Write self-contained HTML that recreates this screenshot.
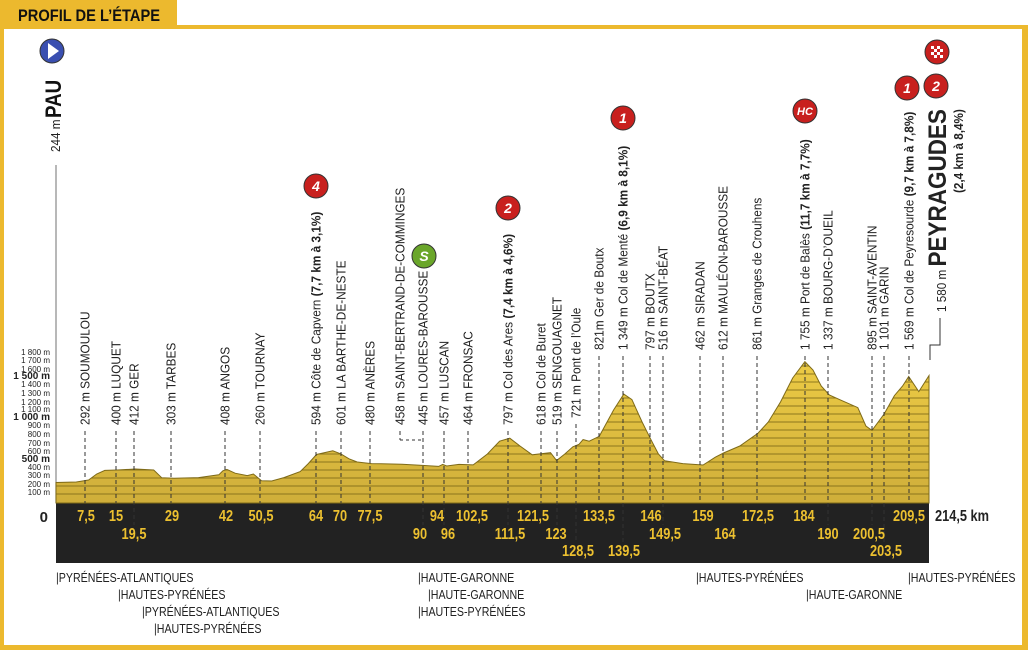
<!DOCTYPE html>
<html><head><meta charset="utf-8"><style>
html,body{margin:0;padding:0;background:#fff;}
svg{display:block;font-family:"Liberation Sans",sans-serif;}
</style></head><body>
<svg id="s" width="1028" height="650" viewBox="0 0 1028 650" xmlns="http://www.w3.org/2000/svg">
<defs>
<linearGradient id="g" x1="0" y1="0" x2="0" y2="1"><stop offset="0" stop-color="#eccb45"/><stop offset="1" stop-color="#cfae3a"/></linearGradient>
<clipPath id="tc"><path id="tcp"/></clipPath>
</defs>
<rect x="0" y="0" width="177" height="27" fill="#ecb92e"/>
<rect x="0" y="25" width="1028" height="4" fill="#ecb92e"/>
<rect x="0" y="0" width="4" height="650" fill="#ecb92e"/>
<rect x="1022" y="25" width="6" height="625" fill="#ecb92e"/>
<rect x="0" y="645" width="1028" height="5" fill="#ecb92e"/>
<text x="18" y="21" font-size="17" font-weight="bold" fill="#111" textLength="142" lengthAdjust="spacingAndGlyphs">PROFIL DE L’ÉTAPE</text>
<line x1="56" y1="165" x2="56" y2="503" stroke="#888" stroke-width="1.2"/>
<rect x="56" y="503" width="873" height="60" fill="#222"/>
<g id="terr"></g>
<g id="lab"></g>
</svg>
<script>
var NS="http://www.w3.org/2000/svg",s=document.getElementById('s');
function X(k){return 56+k*4.07}function Y(m){return 502-m*0.08}
function el(t,a,p,txt){var e=document.createElementNS(NS,t);for(var k in a)e.setAttribute(k,a[k]);if(txt!=null)e.textContent=txt;(p||s).appendChild(e);return e}
var P=[[0,244],[5,250],[8,275],[10,350],[12,395],[15,400],[19.5,412],[24,400],[26,303],[29,296],[35,305],[40,340],[41,390],[42,408],[44,360],[47,330],[48.5,350],[50.5,265],[53,262],[56,305],[60,380],[62,480],[64,594],[68,640],[70,601],[72,540],[74,500],[77.5,480],[85,472],[90,458],[94,445],[95,470],[96,450],[99,470],[102.5,464],[106,600],[109,760],[111.5,797],[114,700],[117,590],[121.5,618],[123,519],[125,600],[127,690],[128.5,721],[129.5,780],[131,760],[133.5,821],[137,1150],[139.5,1349],[141.5,1280],[144,1000],[146,797],[148,600],[149.5,516],[154,480],[159,462],[162,560],[164,612],[168,700],[172.5,861],[175,1000],[178,1250],[181,1550],[184,1755],[186,1650],[188,1450],[190,1337],[193,1270],[197,1180],[199,950],[200.5,895],[203.5,1101],[206,1330],[208,1450],[209.5,1569],[212,1380],[214.5,1580]];
var d="M"+X(0)+",503";P.forEach(function(p){d+=" L"+X(p[0]).toFixed(1)+","+Y(p[1]).toFixed(1)});d+=" L"+X(214.5)+",503 Z";
document.getElementById('tcp').setAttribute('d',d);
var T=document.getElementById('terr');
el('path',{d:d,fill:'url(#g)'},T);
var G=el('g',{'clip-path':'url(#tc)'},T);
for(var m=100;m<=1800;m+=100)el('line',{x1:56,x2:930,y1:Y(m),y2:Y(m),stroke:'#7e6a18','stroke-width':1,opacity:.85},G);
el('path',{d:d,fill:'none',stroke:'#7e6a18','stroke-width':1},T);
var ax=[1800,1700,1600,1500,1400,1300,1200,1100,1000,900,800,700,600,500,400,300,200,100];
var ay=[352,360,369,376,384,393,402,409,417,425,434,443,451,459,467,475,484,492];
ax.forEach(function(v,i){var b=(v==1500||v==1000||v==500);var t=(v>=1000?(Math.floor(v/1000)+" "+String(v%1000).padStart(3,"0")):v)+" m";
el('text',{x:50,y:ay[i]+3,'font-size':b?10:8,'font-weight':b?'bold':'normal','text-anchor':'end',fill:'#222'},null,t)});
el('text',{x:48,y:522,'font-size':15,'font-weight':'bold','text-anchor':'end',fill:'#222'},null,'0');
var L=[[85,425,"292 m SOUMOULOU",503],[116,425,"400 m LUQUET",503],[134,425,"412 m GER",525],[171,425,"303 m TARBES",503],[225,425,"408 m ANGOS",503],[260,425,"260 m TOURNAY",503],
[316,425,"594 m Côte de Capvern ","(7,7 km à 3,1%)",503],[341,425,"601 m LA BARTHE-DE-NESTE",503],[370,425,"480 m ANÈRES",503],[400,425,"458 m SAINT-BERTRAND-DE-COMMINGES",440],[423,425,"445 m LOURES-BAROUSSE",525],[444,425,"457 m LUSCAN",525],[468,425,"464 m FRONSAC",503],
[508,425,"797 m Col des Ares ","(7,4 km à 4,6%)",525],[541,425,"618 m Col de Buret",503],[557,425,"519 m SENGOUAGNET",525],[576,418,"721 m Pont de l’Oule",543],[599,350,"821m Ger de Boutx",503],[623,350,"1 349 m Col de Menté ","(6,9 km à 8,1%)",543],
[650,350,"797 m BOUTX",503],[663,350,"516 m SAINT-BÉAT",525],[700,350,"462 m SIRADAN",503],[723,350,"612 m MAULÉON-BAROUSSE",503],[757,350,"861 m Granges de Crouhens",503],[805,350,"1 755 m Port de Balès ","(11,7 km à 7,7%)",503],[828,350,"1 337 m BOURG-D’OUEIL",525],[872,350,"895 m SAINT-AVENTIN",525],[884,350,"1 101 m GARIN",543],[909,350,"1 569 m Col de Peyresourde ","(9,7 km à 7,8%)",503]];
var LB=document.getElementById('lab');
L.forEach(function(l){var x=l[0],b=l[1],txt=l[2],bold=null,de;if(l.length==5){bold=l[3];de=l[4]}else de=l[3];
var t=el('text',{transform:'translate('+(x+4.5)+','+b+') rotate(-90) scale(0.91,1)','font-size':13,fill:'#222'},LB);
el('tspan',{},t,txt);if(bold)el('tspan',{'font-weight':'bold'},t,bold);
el('line',{x1:x,x2:x,y1:b+6,y2:de,stroke:'#333','stroke-width':1,'stroke-dasharray':'4,3'},LB)});
el('path',{d:'M400,440 L423,440',stroke:'#333','stroke-dasharray':'3,3',fill:'none'},LB);
el('path',{d:'M940,318 L940,345 L930,345 L930,360',stroke:'#333',fill:'none'},LB);
var t=el('text',{transform:'translate(946,312) rotate(-90) scale(0.9,1)','font-size':13,fill:'#222'},LB);el('tspan',{},t,'1 580 m ');el('tspan',{'font-weight':'bold','font-size':25},t,'PEYRAGUDES');
el('text',{transform:'translate(963,193) rotate(-90) scale(0.9,1)','font-size':13,'font-weight':'bold',fill:'#222'},LB,'(2,4 km à 8,4%)');
el('text',{transform:'translate(61,118) rotate(-90) scale(0.85,1)','font-size':22,'font-weight':'bold',fill:'#111'},LB,'PAU');
el('text',{transform:'translate(60,152) rotate(-90) scale(0.9,1)','font-size':13,fill:'#222'},LB,'244 m');
function K(x,y,t){el('text',{x:x,y:y,'font-size':16,'font-weight':'bold','text-anchor':'middle',fill:'#ecc030',transform:'translate('+x+',0) scale(0.8,1) translate('+(-x)+',0)'},LB,t)}
[[86,'7,5'],[116,'15'],[172,'29'],[226,'42'],[261,'50,5'],[316,'64'],[340,'70'],[370,'77,5'],[437,'94'],[472,'102,5'],[533,'121,5'],[599,'133,5'],[651,'146'],[703,'159'],[758,'172,5'],[804,'184'],[909,'209,5']].forEach(function(a){K(a[0],521,a[1])});
[[134,'19,5'],[420,'90'],[448,'96'],[510,'111,5'],[556,'123'],[665,'149,5'],[725,'164'],[828,'190'],[869,'200,5']].forEach(function(a){K(a[0],539,a[1])});
[[578,'128,5'],[624,'139,5'],[886,'203,5']].forEach(function(a){K(a[0],556,a[1])});
el('text',{x:935,y:521,'font-size':16,'font-weight':'bold',fill:'#222',transform:'translate(935,0) scale(0.8,1) translate(-935,0)'},LB,'214,5 km');
[[56,582,'|PYRÉNÉES-ATLANTIQUES'],[118,599,'|HAUTES-PYRÉNÉES'],[142,616,'|PYRÉNÉES-ATLANTIQUES'],[154,633,'|HAUTES-PYRÉNÉES'],[418,582,'|HAUTE-GARONNE'],[428,599,'|HAUTE-GARONNE'],[418,616,'|HAUTES-PYRÉNÉES'],[696,582,'|HAUTES-PYRÉNÉES'],[806,599,'|HAUTE-GARONNE'],[908,582,'|HAUTES-PYRÉNÉES']].forEach(function(a){
el('text',{x:a[0],y:a[1],'font-size':13,fill:'#222',transform:'translate('+a[0]+',0) scale(0.82,1) translate('+(-a[0])+',0)'},LB,a[2])});
function C(x,y,fill,txt,fs){el('circle',{cx:x,cy:y,r:12,fill:fill,stroke:'#333','stroke-width':1},LB);if(txt)el('text',{x:x,y:y+(fs||14)*0.36,'font-size':fs||14,'font-weight':'bold','font-style':'italic','text-anchor':'middle',fill:'#fff'},LB,txt)}
C(52,51,'#3a4fb0');el('path',{d:'M48,43 L59,51 L48,59 Z',fill:'#fff'},LB);
C(316,186,'#c8201e','4');C(424,256,'#6aa62a','S');C(508,208,'#c8201e','2');C(623,118,'#c8201e','1');C(805,111,'#c8201e','HC',11);C(907,88,'#c8201e','1');C(936,86,'#c8201e','2');
C(937,52,'#c8201e');
for(var i=0;i<4;i++)for(var j=0;j<4;j++)if((i+j)%2==0)el('rect',{x:931+i*3,y:46+j*3,width:3,height:3,fill:'#fff'},LB);
</script>
</body></html>
